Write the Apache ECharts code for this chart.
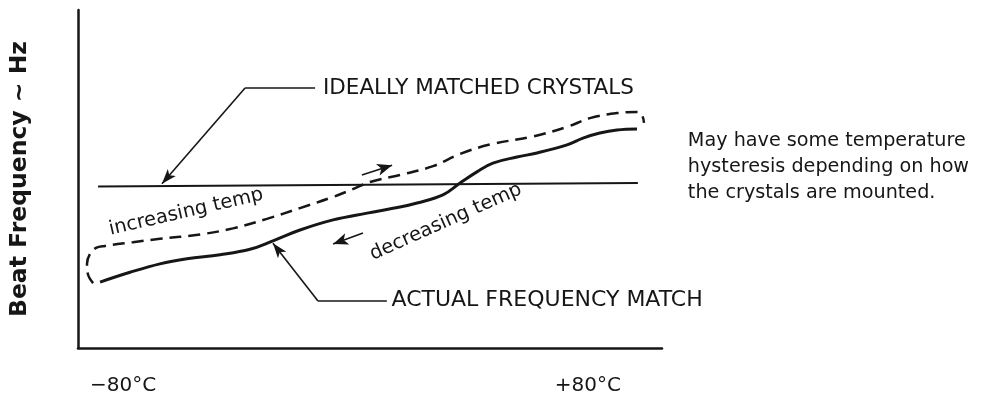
<!DOCTYPE html>
<html><head><meta charset="utf-8">
<script src="https://cdn.jsdelivr.net/npm/echarts@6/dist/echarts.min.js"></script>
<style>html,body{margin:0;padding:0;background:#fff}#c{width:985px;height:400px}</style>
</head><body><div id="c"></div>
<script>
// ---- data (temperature in °C, beat frequency in arbitrary units) ----
const xTickValues = [-80, 80];
const xTickLabels = ['−80°C', '+80°C'];
const yAxisTitle = 'Beat Frequency ~ Hz';

const idealTemp = [-88.6, 97.2];
const idealFreq = [47.8, 48.8];

const actualTemp = [-87.9, -77.6, -67.3, -58.0, -46.6, -36.3, -28.4, -19.1, -7.7, 4.0, 15.3, 21.2, 30.1, 36.0, 41.8, 47.3, 55.6, 62.5, 72.8, 78.3, 84.1, 90.0, 96.9];
const actualFreq = [19.5, 22.4, 24.9, 26.4, 27.6, 29.2, 31.7, 34.9, 37.9, 39.9, 41.7, 42.9, 45.3, 48.8, 52.1, 54.7, 56.5, 57.7, 60.1, 62.1, 63.6, 64.5, 64.8];

const hystTemp = [-90.3, -92.1, -92.4, -91.4, -89.3, -86.2, -76.6, -67.3, -53.5, -42.2, -30.5, -19.1, -7.7, -0.9, 5.0, 15.3, 26.7, 36.0, 46.3, 61.1, 72.8, 80.7, 90.0, 96.9, 98.6, 99.3];
const hystFreq = [19.2, 21.9, 24.9, 27.8, 29.6, 30.2, 31.3, 32.3, 33.6, 35.4, 38.2, 41.4, 44.7, 47.0, 49.1, 51.2, 53.8, 57.4, 60.2, 62.6, 65.4, 68.0, 69.5, 69.8, 68.9, 66.6];

const labelIdeal = 'IDEALLY MATCHED CRYSTALS';
const labelActual = 'ACTUAL FREQUENCY MATCH';
const labelUp = 'increasing temp';
const labelDown = 'decreasing temp';
const noteLines = ['May have some temperature', 'hysteresis depending on how', 'the crystals are mounted.'];

// ---- chart ----
const pair = (xs, ys) => xs.map((x, i) => [x, ys[i]]);
const INK = '#161616';
const FONT = 'DejaVu Sans';

const seg = (a, b, arrow) => [
  { coord: a, symbol: 'none' },
  arrow ? { coord: b, symbol: 'arrow', symbolSize: arrow } : { coord: b, symbol: 'none' }
];

const chart = echarts.init(document.getElementById('c'), null, { renderer: 'canvas' });
chart.setOption({
  animation: false,
  backgroundColor: '#fff',
  grid: { left: 78, right: 323, top: 10, bottom: 52, outerBoundsMode: 'none' },
  xAxis: {
    type: 'value', min: -95.5, max: 105.5,
    axisLine: { show: true, onZero: false, lineStyle: { color: INK, width: 2.5 } },
    axisTick: { show: false }, splitLine: { show: false },
    axisLabel: {
      customValues: xTickValues,
      formatter: v => xTickLabels[xTickValues.indexOf(v)],
      fontFamily: FONT, fontSize: 20, color: INK, margin: 28
    }
  },
  yAxis: {
    type: 'value', min: 0, max: 100,
    axisLine: { show: true, onZero: false, lineStyle: { color: INK, width: 2.5 } },
    axisTick: { show: false }, splitLine: { show: false }, axisLabel: { show: false },
    name: yAxisTitle, nameLocation: 'middle', nameGap: 46,
    nameTextStyle: { fontFamily: FONT, fontWeight: 'bold', fontSize: 23.5, color: INK }
  },
  series: [
    {
      type: 'line', data: pair(idealTemp, idealFreq), symbol: 'none', silent: true,
      lineStyle: { color: INK, width: 2 },
      markLine: {
        silent: true, symbol: ['none', 'none'], label: { show: false },
        lineStyle: { color: INK, width: 1.6, type: 'solid' },
        emphasis: { disabled: true },
        data: [
          seg([-13.9, 76.9], [-38.0, 76.9]),
          seg([-38.0, 76.9], [-66.6, 48.6], [8, 15]),
          seg([10.8, 13.9], [-12.9, 13.9]),
          seg([-12.9, 13.9], [-28.4, 31.0], [8, 15]),
          seg([2.2, 51.2], [12.6, 54.1], [9, 15]),
          seg([2.6, 34.0], [-7.7, 30.8], [9, 15])
        ]
      }
    },
    {
      type: 'line', data: pair(actualTemp, actualFreq), symbol: 'none', smooth: 0.4, silent: true,
      lineStyle: { color: INK, width: 3 }
    },
    {
      type: 'line', data: pair(hystTemp, hystFreq), symbol: 'none', smooth: 0.4, silent: true,
      lineStyle: { color: INK, width: 2.5, type: [12, 7] }
    }
  ]
});

const P = (t, v) => chart.convertToPixel({ gridIndex: 0 }, [t, v]);
const txt = (pos, text, style, rot) => ({
  type: 'text', x: pos[0], y: pos[1], rotation: (rot || 0) * Math.PI / 180, silent: true,
  style: Object.assign({ text, fontFamily: FONT, fill: INK }, style)
});
chart.setOption({
  graphic: [
    txt(P(-11.2, 76.9), labelIdeal, { fontSize: 21.5, align: 'left', verticalAlign: 'middle' }),
    txt(P(12.4, 14.2), labelActual, { fontSize: 22, align: 'left', verticalAlign: 'middle' }),
    txt(P(-58.3, 40.2), labelUp, { fontSize: 19.5, align: 'center', verticalAlign: 'middle' }, 13),
    txt(P(31.1, 37.3), labelDown, { fontSize: 19.5, align: 'center', verticalAlign: 'middle' }, 24),
    txt(P(114.4, 65.1), noteLines.join('\n'), { fontSize: 19.2, lineHeight: 26, align: 'left', verticalAlign: 'top' })
  ]
});
</script>
</body></html>
